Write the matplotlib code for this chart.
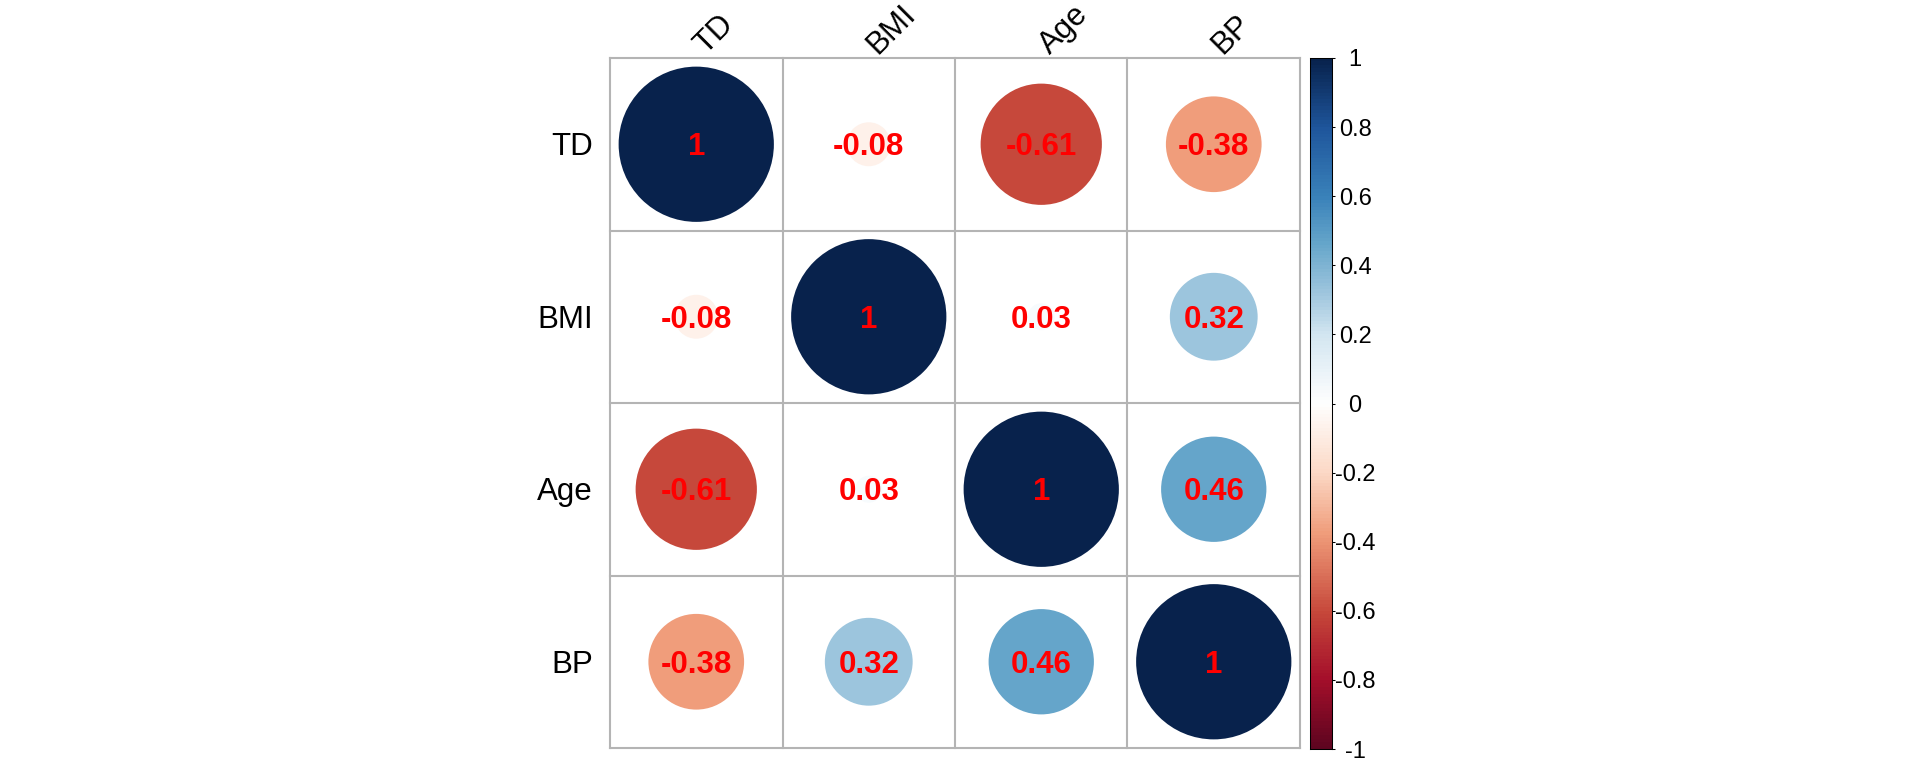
import numpy as np
import matplotlib
matplotlib.use("Agg")
import matplotlib.pyplot as plt
from matplotlib.patches import Circle
from matplotlib.colors import LinearSegmentedColormap, Normalize
from matplotlib.transforms import offset_copy

plt.rcParams['font.family'] = ['Liberation Sans', 'DejaVu Sans']

# ---- data ----
variables = ["TD", "BMI", "Age", "BP"]
row_TD = [1.00, -0.08, -0.61, -0.38]
row_BMI = [-0.08, 1.00, 0.03, 0.32]
row_Age = [-0.61, 0.03, 1.00, 0.46]
row_BP = [-0.38, 0.32, 0.46, 1.00]
corr = np.array([row_TD, row_BMI, row_Age, row_BP])

cbar_ticks = [-1.0, -0.8, -0.6, -0.4, -0.2, 0.0, 0.2, 0.4, 0.6, 0.8, 1.0]
cbar_labels = ["-1", "-0.8", "-0.6", "-0.4", "-0.2", "0", "0.2", "0.4", "0.6", "0.8", "1"]

# ---- colour palette (RdBu-like, as in corrplot) ----
anchors = [
    (0.00, "#5E0520"),
    (0.10, "#A50F2B"),
    (0.195, "#C6473A"),
    (0.31, "#F09C7A"),
    (0.40, "#FCD9C6"),
    (0.50, "#FFFFFF"),
    (0.60, "#D3E6F1"),
    (0.66, "#9FC6DE"),
    (0.73, "#67A7CB"),
    (0.80, "#3A82BA"),
    (0.90, "#1F569C"),
    (1.00, "#08224C"),
]
cmap = LinearSegmentedColormap.from_list("corr_rdbu", anchors, N=200)
norm = Normalize(vmin=-1, vmax=1)

W, H, DPI = 1920, 768, 100
fig = plt.figure(figsize=(W / DPI, H / DPI), dpi=DPI)

# main matrix axes (pixel box 610..1300 x 58..748)
ax = fig.add_axes([610 / W, (H - 748) / H, 690 / W, 690 / H])
n = len(variables)
ax.set_xlim(0, n)
ax.set_ylim(n, 0)
ax.axis("off")

grid_col = "#B4B4B4"
for k in range(n + 1):
    ax.plot([k, k], [0, n], color=grid_col, lw=1.5, clip_on=False, zorder=1)
    ax.plot([0, n], [k, k], color=grid_col, lw=1.5, clip_on=False, zorder=1)

txt_tr = offset_copy(ax.transData, fig=fig, x=0, y=-11.2, units="dots")
for i in range(n):
    for j in range(n):
        r = corr[i, j]
        circ = Circle((j + 0.5, i + 0.5), 0.45 * np.sqrt(abs(r)),
                      facecolor=cmap(norm(r)), edgecolor="none", zorder=2)
        ax.add_patch(circ)
        lab = f"{r:.2f}".rstrip("0").rstrip(".")
        ax.text(j + 0.5, i + 0.5, lab, transform=txt_tr, ha="center",
                va="baseline", color="#FF0000", fontsize=22.5,
                fontweight="bold", zorder=3)

# row labels
for i, name in enumerate(variables):
    ax.text(-0.1, i + 0.5, name, transform=txt_tr, ha="right", va="baseline",
            fontsize=22.5, color="black", clip_on=False)

# column labels (rotated 45 deg)
col_tr = offset_copy(ax.transData, fig=fig, x=9, y=3, units="dots")
for j, name in enumerate(variables):
    ax.text(j + 0.5, 0, name, transform=col_tr, ha="left", va="baseline",
            rotation=45, rotation_mode="anchor", fontsize=22.5,
            color="black", clip_on=False)

# colour bar (pixel box 1309.5..1331.5 x 58..749)
cax = fig.add_axes([1309.5 / W, (H - 749) / H, 22 / W, 691 / H])
grad = np.linspace(-1, 1, 200).reshape(-1, 1)
cax.imshow(grad, cmap=cmap, norm=norm, origin="lower", aspect="auto",
           extent=(0, 1, -1, 1), interpolation="nearest")
cax.set_xlim(0, 1)
cax.set_ylim(-1, 1)
cax.set_xticks([])
cax.yaxis.tick_right()
cax.set_yticks(cbar_ticks)
cax.set_yticklabels(cbar_labels)
cax.tick_params(axis="y", length=2.2, width=0.75, color="black",
                labelsize=17, pad=14.8)
for lbl in cax.get_yticklabels():
    lbl.set_horizontalalignment("center")
for sp in cax.spines.values():
    sp.set_linewidth(0.75)
    sp.set_color("black")

fig.savefig("out.png", dpi=DPI)
